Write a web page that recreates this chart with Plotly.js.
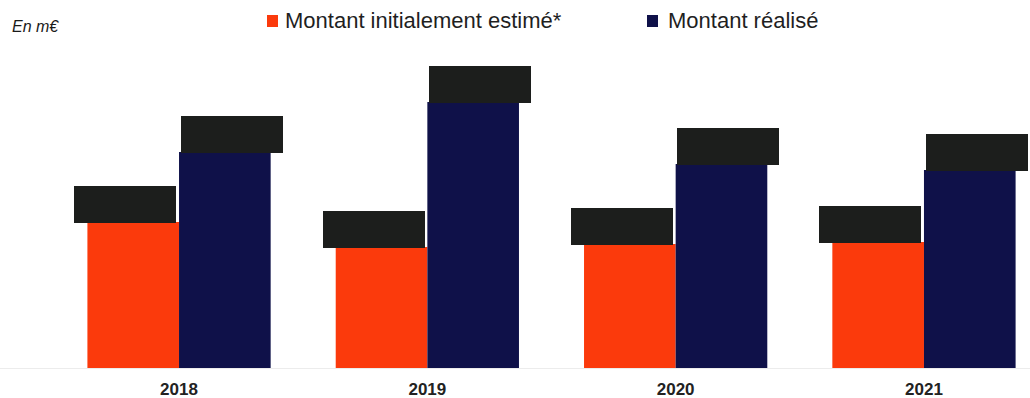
<!DOCTYPE html>
<html>
<head>
<meta charset="utf-8">
<script src="https://cdn.plot.ly/plotly-3.0.1.min.js"></script>
<style>html,body{margin:0;padding:0;background:#fff;}#chart{width:1030px;height:398px;}</style>
</head>
<body>
<div id="chart"></div>
<script>
// ---- data (labels redacted in the source) ----
const categories = ["2018", "2019", "2020", "2021"];
const seriesNames = ["Montant initialement estimé*", "Montant réalisé"];
const montantEstime = [146, 121, 124, 126];
const montantRealise = [216, 266, 204, 198];
const unitLabel = "En m€";

// ---- styling ----
const W = 1030, H = 398;
const M = {l: 0, r: 0, t: 48, b: 30};
const colors = ["#FB3A0C", "#0F1149"];
const blobColor = "#1C1E1C";
const font = "Liberation Sans, Arial, sans-serif";
const bargap = 0.262;
const xRange = [-0.721, 3.427];
const yRange = [0, 320];

const plotW = W - M.l - M.r, plotH = H - M.t - M.b;
const px2paperX = p => (p - M.l) / plotW;
const px2paperY = p => (H - M.b - p) / plotH;

const xIdx = categories.map((c, i) => i);
const series = [montantEstime, montantRealise];

const traces = series.map((vals, s) => ({
  type: "bar",
  name: seriesNames[s],
  x: xIdx,
  y: vals,
  marker: {color: colors[s], line: {width: 0}},
  hoverinfo: "skip",
  showlegend: false
}));

// redacted value labels (dark boxes) sitting on each bar top
const halfBar = (1 - bargap) / 4;
const annotations = [];
series.forEach((vals, s) => {
  vals.forEach((v, i) => {
    annotations.push({
      x: xIdx[i] + (s === 0 ? -halfBar : halfBar),
      y: v, xref: "x", yref: "y",
      xanchor: "center", yanchor: "bottom",
      xshift: s === 0 ? -8 : 7,
      yshift: -1,
      text: String(v),
      showarrow: false,
      bgcolor: blobColor,
      borderwidth: 0,
      borderpad: 0,
      width: 102, height: 37,
      font: {family: font, size: 16, color: blobColor}
    });
  });
});

// unit label
annotations.push({
  xref: "paper", yref: "paper",
  x: px2paperX(10), y: px2paperY(27),
  xanchor: "left", yanchor: "middle",
  text: "<i>" + unitLabel + "</i>",
  showarrow: false,
  font: {family: font, size: 16, color: "#1a1a1a"}
});

// legend (text + coloured squares)
const legendTextX = [283, 666];
const legendSqX = [267, 647];
const legendY = 21;
const shapes = [];
seriesNames.forEach((n, s) => {
  annotations.push({
    xref: "paper", yref: "paper",
    x: px2paperX(legendTextX[s]), y: px2paperY(legendY),
    xanchor: "left", yanchor: "middle",
    text: n, showarrow: false,
    font: {family: font, size: 22, color: "#1f1f1f"}
  });
  shapes.push({
    type: "rect", xref: "paper", yref: "paper",
    x0: px2paperX(legendSqX[s]), x1: px2paperX(legendSqX[s] + 11),
    y0: px2paperY(legendY + 6), y1: px2paperY(legendY - 6),
    fillcolor: colors[s], line: {width: 0}
  });
});

const layout = {
  width: W, height: H,
  margin: M,
  paper_bgcolor: "#fff", plot_bgcolor: "#fff",
  barmode: "group",
  bargap: bargap, bargroupgap: 0,
  showlegend: false,
  xaxis: {
    range: xRange,
    tickmode: "array", tickvals: xIdx, ticktext: categories,
    tickfont: {family: font, size: 17, color: "#222", weight: "bold"},
    showgrid: false, zeroline: false,
    showline: true, linecolor: "#ececec", linewidth: 1,
    ticks: "", ticklabelstandoff: 6,
    fixedrange: true
  },
  yaxis: {
    range: yRange, visible: false, showgrid: false, zeroline: false, fixedrange: true
  },
  annotations: annotations,
  shapes: shapes
};

Plotly.newPlot("chart", traces, layout, {displayModeBar: false, staticPlot: true});
</script>
</body>
</html>
